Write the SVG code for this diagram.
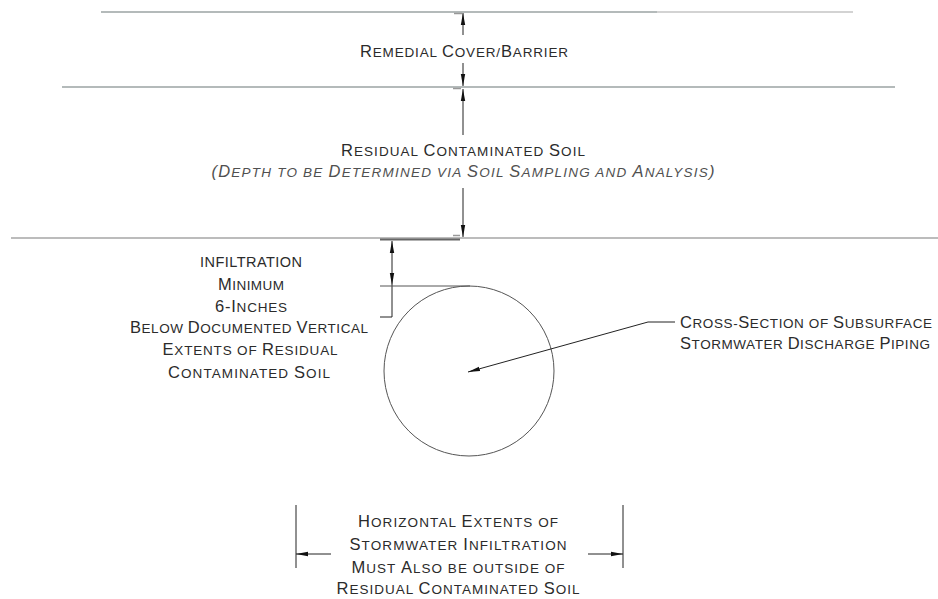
<svg xmlns="http://www.w3.org/2000/svg" width="938" height="599" viewBox="0 0 938 599">
<style>
text{font-family:"Liberation Sans",Arial,sans-serif;font-size:16.5px;fill:#2b2b2b;}
.s{font-size:13.5px;}
.i{font-style:italic;fill:#505050;}
.m{text-anchor:middle;}
.dim{stroke:#222;stroke-width:1;fill:none;}
.tick{stroke:#999;stroke-width:1.5;}
</style>
<defs>
<marker id="arr" markerUnits="userSpaceOnUse" markerWidth="14" markerHeight="6" refX="12" refY="3" orient="auto" viewBox="0 0 14 6">
<path d="M0,0.8 L12,3 L0,5.2 Z" fill="#111"/>
</marker>
</defs>
<rect width="938" height="599" fill="#fff"/>

<g id="layers">
<line x1="101" y1="12" x2="657" y2="12" stroke="#6b7676" stroke-width="1.2"/>
<line x1="657" y1="12" x2="853" y2="12" stroke="#c4c4c4" stroke-width="1.6"/>
<line x1="62" y1="87" x2="895" y2="87" stroke="#6b7676" stroke-width="1.2"/>
<line x1="11" y1="238" x2="938" y2="238" stroke="#bcbcbc" stroke-width="2"/>
</g>

<g id="dim-cover">
<line class="tick" x1="454" y1="13.5" x2="462" y2="13.5"/>
<line class="tick" x1="453" y1="88.5" x2="461" y2="88.5"/>
<line class="tick" x1="453" y1="235.5" x2="460" y2="235.5"/>
<line class="dim" x1="463" y1="35" x2="463" y2="13" marker-end="url(#arr)"/>
<line class="dim" x1="463" y1="63" x2="463" y2="86" marker-end="url(#arr)"/>
<line class="dim" x1="463" y1="135" x2="463" y2="89" marker-end="url(#arr)"/>
<line class="dim" x1="463" y1="188" x2="463" y2="237" marker-end="url(#arr)"/>
</g>

<g id="label-cover">
<text class="m" x="464" y="57" textLength="208">R<tspan class="s">EMEDIAL </tspan>C<tspan class="s">OVER/</tspan>B<tspan class="s">ARRIER</tspan></text>
</g>

<g id="label-residual">
<text class="m" x="463" y="156" textLength="244">R<tspan class="s">ESIDUAL </tspan>C<tspan class="s">ONTAMINATED </tspan>S<tspan class="s">OIL</tspan></text>
<text class="m i" x="463" y="177" textLength="503">(D<tspan class="s">EPTH TO BE </tspan>D<tspan class="s">ETERMINED VIA </tspan>S<tspan class="s">OIL </tspan>S<tspan class="s">AMPLING AND </tspan>A<tspan class="s">NALYSIS</tspan>)</text>
</g>

<g id="dim-infiltration">
<line x1="380" y1="239.5" x2="460" y2="239.5" stroke="#666" stroke-width="2"/>
<line class="dim" x1="392" y1="262" x2="392" y2="241" marker-end="url(#arr)"/>
<line class="dim" x1="392" y1="262" x2="392" y2="285" marker-end="url(#arr)"/>
<line class="dim" x1="392" y1="285" x2="392" y2="317"/>
<line class="dim" x1="380" y1="317" x2="392" y2="317"/>
<line x1="380" y1="286" x2="470" y2="286" stroke="#555" stroke-width="1"/>
</g>

<g id="label-infiltration">
<text class="m" x="251" y="267" textLength="102" style="font-size:14.5px">INFILTRATION</text>
<text class="m" x="251" y="290" textLength="66">M<tspan class="s">INIMUM</tspan></text>
<text class="m" x="251" y="312" textLength="72">6-I<tspan class="s">NCHES</tspan></text>
<text class="m" x="249" y="333" textLength="238">B<tspan class="s">ELOW </tspan>D<tspan class="s">OCUMENTED </tspan>V<tspan class="s">ERTICAL</tspan></text>
<text class="m" x="250" y="355" textLength="175">E<tspan class="s">XTENTS OF </tspan>R<tspan class="s">ESIDUAL</tspan></text>
<text class="m" x="249" y="378" textLength="162">C<tspan class="s">ONTAMINATED </tspan>S<tspan class="s">OIL</tspan></text>
</g>

<g id="pipe">
<circle cx="469" cy="371" r="85" fill="none" stroke="#555" stroke-width="1"/>
</g>

<g id="label-pipe">
<text x="680" y="328" textLength="252">C<tspan class="s">ROSS-</tspan>S<tspan class="s">ECTION OF </tspan>S<tspan class="s">UBSURFACE</tspan></text>
<text x="680" y="349" textLength="250">S<tspan class="s">TORMWATER </tspan>D<tspan class="s">ISCHARGE </tspan>P<tspan class="s">IPING</tspan></text>
</g>

<g id="connectors">
<polyline class="dim" points="675,322 648,322 468,372" marker-end="url(#arr)"/>
</g>

<g id="dim-horizontal">
<line class="dim" x1="296" y1="505" x2="296" y2="568" stroke="#555"/>
<line class="dim" x1="623" y1="505" x2="623" y2="568" stroke="#555"/>
<line class="dim" x1="331" y1="554" x2="296" y2="554" marker-end="url(#arr)"/>
<line class="dim" x1="588" y1="554" x2="623" y2="554" marker-end="url(#arr)"/>
</g>

<g id="label-horizontal">
<text class="m" x="458" y="527" textLength="200">H<tspan class="s">ORIZONTAL </tspan>E<tspan class="s">XTENTS OF</tspan></text>
<text class="m" x="458" y="550" textLength="217">S<tspan class="s">TORMWATER </tspan>I<tspan class="s">NFILTRATION</tspan></text>
<text class="m" x="458" y="573" textLength="213">M<tspan class="s">UST </tspan>A<tspan class="s">LSO BE OUTSIDE OF</tspan></text>
<text class="m" x="458" y="594" textLength="243">R<tspan class="s">ESIDUAL </tspan>C<tspan class="s">ONTAMINATED </tspan>S<tspan class="s">OIL</tspan></text>
</g>
</svg>
